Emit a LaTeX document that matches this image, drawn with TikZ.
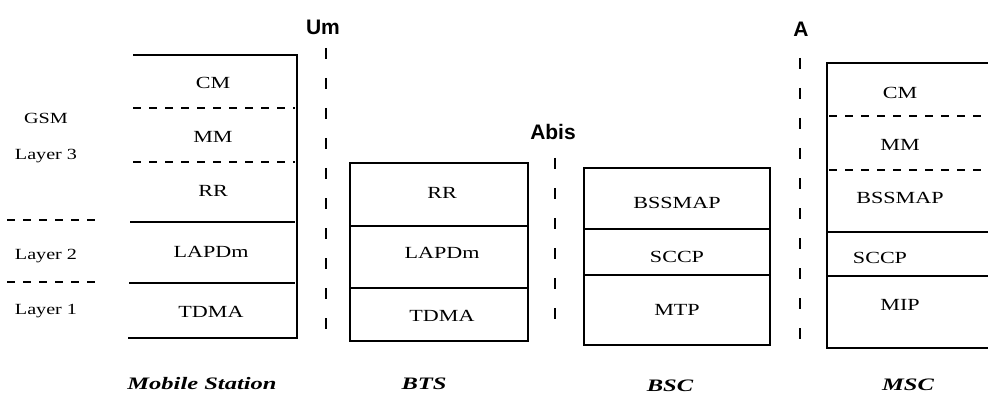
\documentclass[tikz,border=0pt]{standalone}
\usepackage{fontspec}
\setmainfont{Liberation Serif}
\newfontfamily\layerfont[FakeStretch=1.3]{Liberation Serif}
\newfontfamily\entityfont[FakeStretch=1.4]{Liberation Serif}
\newfontfamily\ifacefont{Liberation Sans}

\tikzset{
	layer/.style={font=\layerfont\fontsize{17}{19}\selectfont},
	side/.style={font=\layerfont\fontsize{15.5}{18}\selectfont},
	iface/.style={font=\ifacefont\bfseries\fontsize{21}{24}\selectfont},
	entity/.style={font=\entityfont\bfseries\itshape\fontsize{17.5}{20}\selectfont},
	box/.style={line width=1.5pt},
	sublayer/.style={line width=1.2pt, dash pattern=on 8pt off 8pt},
	ifline/.style={line width=2pt, dash pattern=on 11pt off 19pt},
}

\begin{document}
\begin{tikzpicture}[x=1pt,y=-1pt]
	\useasboundingbox (0,0) rectangle (988,401);
	% layer names on the left
	\draw [sublayer] (7,220) -- (98,220);
	\draw [sublayer] (7,282) -- (98,282);
	\node [side] (gsm) at (46,118) {GSM};
	\node [side] (l3) at (46,156) {Layer 3};
	\node [side] (l2) at (46,256) {Layer 2};
	\node [side] (l1) at (46,311) {Layer 1};

	% mobile station
	\draw [box] (133,55) -- (297,55) -- (297,338) -- (128,338);
	\draw [sublayer] (133,108) -- (295,108);
	\draw [sublayer] (133,162) -- (295,162);
	\draw [box] (130,222) -- (295,222);
	\draw [box] (129,283) -- (295,283);
	\node [layer] (mscm) at (213,83) {CM};
	\node [layer] (msmm) at (213,137) {MM};
	\node [layer] (msrr) at (213,191) {RR};
	\node [layer] (mslap) at (211,252) {LAPDm};
	\node [layer] (mstdma) at (211,312) {TDMA};
	\node [entity] (ms) at (202,384) {Mobile Station};

	% Um
	\node [iface] (um) at (323,27) {Um};
	\draw [ifline] (326,48) -- (326,338);

	% BTS
	\draw [box] (350,163) rectangle (528,341);
	\draw [box] (350,226) -- (528,226);
	\draw [box] (350,288) -- (528,288);
	\node [layer] (btsrr) at (442,193) {RR};
	\node [layer] (btslap) at (442,253) {LAPDm};
	\node [layer] (btstdma) at (442,316) {TDMA};
	\node [entity] (bts) at (424,384) {BTS};

	% Abis
	\node [iface] (abis) at (553,132) {Abis};
	\draw [ifline] (555,158) -- (555,330);

	% BSC
	\draw [box] (584,168) rectangle (770,345);
	\draw [box] (584,229) -- (770,229);
	\draw [box] (584,275) -- (770,275);
	\node [layer] (bscmap) at (677,203) {BSSMAP};
	\node [layer] (bscsccp) at (677,257) {SCCP};
	\node [layer] (bscmtp) at (677,310) {MTP};
	\node [entity] (bsc) at (670,386) {BSC};

	% A
	\node [iface] (a) at (801,29) {A};
	\draw [ifline] (800,58) -- (800,345);

	% MSC
	\draw [box] (988,63) -- (827,63) -- (827,348) -- (988,348);
	\draw [sublayer] (829,116) -- (988,116);
	\draw [sublayer] (829,170) -- (988,170);
	\draw [box] (827,232) -- (988,232);
	\draw [box] (827,276) -- (988,276);
	\node [layer] (msccm) at (900,93) {CM};
	\node [layer] (mscmm) at (900,145) {MM};
	\node [layer] (mscmap) at (900,198) {BSSMAP};
	\node [layer] (mscsccp) at (880,258) {SCCP};
	\node [layer] (mscmip) at (900,305) {MIP};
	\node [entity] (msc) at (908,385) {MSC};
\end{tikzpicture}
\end{document}
